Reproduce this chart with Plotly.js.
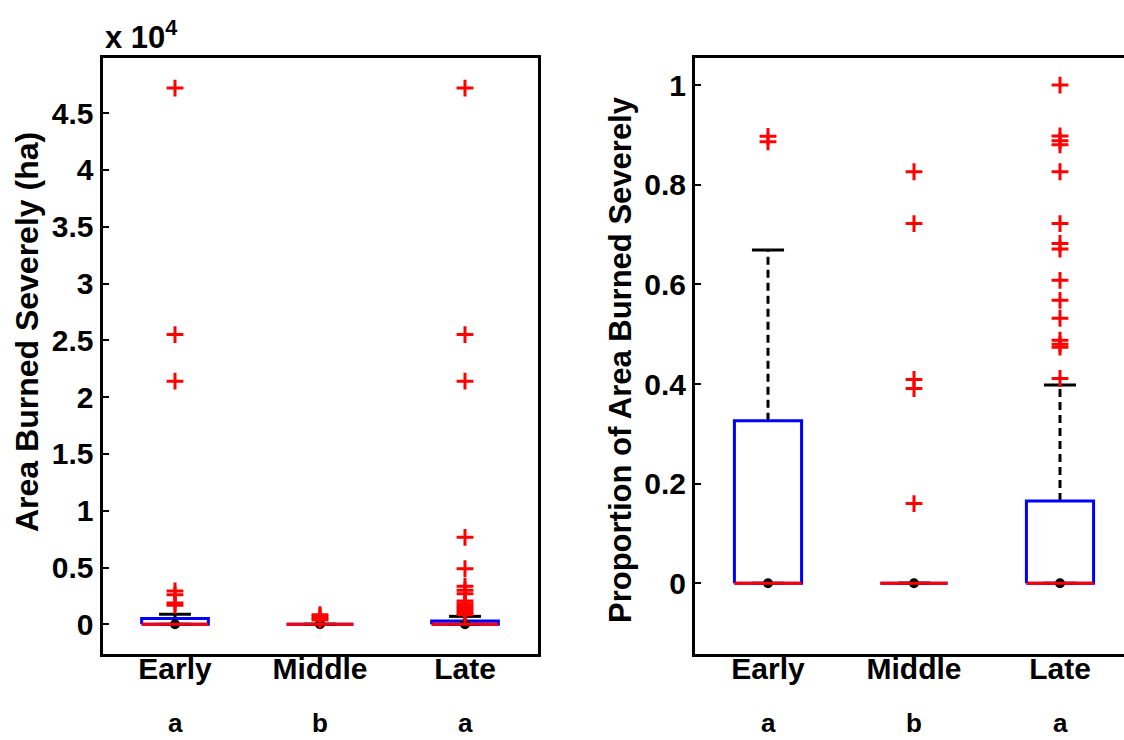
<!DOCTYPE html>
<html>
<head>
<meta charset="utf-8">
<script src="https://cdn.plot.ly/plotly-3.0.1.min.js"></script>
<style>
html,body{margin:0;padding:0;background:#fff;overflow:hidden;}
#chart{width:1140px;height:740px;}
</style>
</head>
<body>
<div id="chart"></div>
<script>
// ---------- data ----------
var categories = ['Early', 'Middle', 'Late'];
var sigLetters = ['a', 'b', 'a'];

// Area burned severely (ha)
var areaQ1 = [0, 0, 0];
var areaMedian = [0, 0, 0];
var areaQ3 = [500, 0, 300];
var areaLowerWhisker = [0, 0, 0];
var areaUpperWhisker = [880, 0, 700];
var areaOutliersEarly = [47200, 25500, 21400, 2930, 2610, 1880, 1670];
var areaOutliersMiddle = [850, 700, 520, 380];
var areaOutliersLate = [47200, 25500, 21400, 7660, 4900, 3350, 3000, 2700, 2050, 1800, 1600, 1400, 1200, 1000, 850];
var areaTickVals = [0, 5000, 10000, 15000, 20000, 25000, 30000, 35000, 40000, 45000];
var areaTickText = ['0', '0.5', '1', '1.5', '2', '2.5', '3', '3.5', '4', '4.5'];

// Proportion of area burned severely
var propQ1 = [0, 0, 0];
var propMedian = [0, 0, 0];
var propQ3 = [0.326, 0, 0.165];
var propLowerWhisker = [0, 0, 0];
var propUpperWhisker = [0.669, 0, 0.398];
var propOutliersEarly = [0.897, 0.886];
var propOutliersMiddle = [0.826, 0.722, 0.409, 0.391, 0.160];
var propOutliersLate = [1.0, 0.898, 0.888, 0.880, 0.826, 0.722, 0.682, 0.671, 0.608, 0.568, 0.532, 0.488, 0.480, 0.474, 0.411];
var propTickVals = [0, 0.2, 0.4, 0.6, 0.8, 1];
var propTickText = ['0', '0.2', '0.4', '0.6', '0.8', '1'];

// ---------- drawing ----------
var BOX_HALF = 0.23, CAP_HALF = 0.11;
var W = 1140, H = 740;

function boxTraces(q1, med, q3, lw, uw, outlierSets, xa, ya) {
  var pos = categories.map(function (c, i) { return i + 1; });
  var bx = [], by = [], wx = [], wy = [], cx = [], cy = [], mx = [], my = [], ox = [], oy = [], dx = [], dy = [];
  pos.forEach(function (p, i) {
    bx.push(p - BOX_HALF, p + BOX_HALF, p + BOX_HALF, p - BOX_HALF, p - BOX_HALF, null);
    by.push(q1[i], q1[i], q3[i], q3[i], q1[i], null);
    wx.push(p, p, null, p, p, null);
    wy.push(q3[i], uw[i], null, q1[i], lw[i], null);
    cx.push(p - CAP_HALF, p + CAP_HALF, null, p - CAP_HALF, p + CAP_HALF, null);
    cy.push(uw[i], uw[i], null, lw[i], lw[i], null);
    mx.push(p - BOX_HALF, p + BOX_HALF, null);
    my.push(med[i], med[i], null);
    outlierSets[i].forEach(function (v) { ox.push(p); oy.push(v); });
    dx.push(p); dy.push(med[i]);
  });
  var common = {xaxis: xa, yaxis: ya, hoverinfo: 'skip', showlegend: false, cliponaxis: false};
  return [
    Object.assign({type: 'scatter', mode: 'lines', x: wx, y: wy, line: {color: '#000', width: 3, dash: '8px,5px'}}, common),
    Object.assign({type: 'scatter', mode: 'lines', x: cx, y: cy, line: {color: '#000', width: 3}}, common),
    Object.assign({type: 'scatter', mode: 'lines', x: bx, y: by, line: {color: '#0000ff', width: 3}}, common),
    Object.assign({type: 'scatter', mode: 'markers', x: dx, y: dy, marker: {color: '#000', size: 10, symbol: 'circle'}}, common),
    Object.assign({type: 'scatter', mode: 'lines', x: mx, y: my, line: {color: '#ff0000', width: 3}}, common),
    Object.assign({type: 'scatter', mode: 'markers', x: ox, y: oy,
      marker: {symbol: 'cross-thin-open', size: 12, color: '#ff0000', line: {color: '#ff0000', width: 3}}}, common)
  ];
}

var traces = []
  .concat(boxTraces(areaQ1, areaMedian, areaQ3, areaLowerWhisker, areaUpperWhisker,
    [areaOutliersEarly, areaOutliersMiddle, areaOutliersLate], 'x', 'y'))
  .concat(boxTraces(propQ1, propMedian, propQ3, propLowerWhisker, propUpperWhisker,
    [propOutliersEarly, propOutliersMiddle, propOutliersLate], 'x2', 'y2'));

var FONT = 'Liberation Sans, Arial, Helvetica, sans-serif';
var tickFont = {family: FONT, size: 30, color: '#000', weight: 700};
var yDomain = [1 - 654 / H, 1 - 58 / H];

function xAxis(dom, anchor) {
  return {domain: dom, anchor: anchor, range: [0.5, 3.5], tickmode: 'array',
    tickvals: categories.map(function (c, i) { return i + 1; }), ticktext: categories,
    ticks: '', ticklen: 0, ticklabelstandoff: -14, showline: true, linewidth: 3, linecolor: '#000', mirror: true,
    showgrid: false, zeroline: false, tickfont: tickFont, fixedrange: true};
}
function yAxis(range, vals, text, anchor) {
  return {domain: yDomain, anchor: anchor, range: range, tickmode: 'array', tickvals: vals, ticktext: text,
    ticks: 'inside', ticklen: 6, tickwidth: 2, tickcolor: '#000', showline: true, linewidth: 3, linecolor: '#000',
    mirror: true, showgrid: false, zeroline: false, tickfont: tickFont, fixedrange: true};
}

var annotations = [];
sigLetters.forEach(function (s, i) {
  ['x', 'x2'].forEach(function (xr) {
    annotations.push({text: s, x: i + 1, xref: xr, y: 1 - 723 / H, yref: 'paper', showarrow: false,
      xanchor: 'center', yanchor: 'middle', font: {family: FONT, size: 26, color: '#000', weight: 700}});
  });
});
annotations.push({text: 'Area Burned Severely (ha)', textangle: -90, x: 27 / W, xref: 'paper',
  y: 1 - 332 / H, yref: 'paper', showarrow: false, xanchor: 'center', yanchor: 'middle',
  font: {family: FONT, size: 32, color: '#000', weight: 700}});
annotations.push({text: 'Proportion of Area Burned Severely', textangle: -90, x: 620 / W, xref: 'paper',
  y: 1 - 360 / H, yref: 'paper', showarrow: false, xanchor: 'center', yanchor: 'middle',
  font: {family: FONT, size: 31, color: '#000', weight: 700}});
annotations.push({text: 'x 10<sup>4</sup>', x: 103 / W, xref: 'paper', y: 1 - 35 / H, yref: 'paper',
  showarrow: false, xanchor: 'left', yanchor: 'middle',
  font: {family: FONT, size: 31, color: '#000', weight: 700}});

var layout = {
  width: W, height: H, margin: {l: 0, r: 0, t: 0, b: 0},
  paper_bgcolor: '#fff', plot_bgcolor: '#fff', showlegend: false,
  font: {family: FONT, color: '#000'},
  xaxis: xAxis([102.5 / W, 537.5 / W], 'y'),
  yaxis: yAxis([-2614, 49850], areaTickVals, areaTickText, 'x'),
  xaxis2: xAxis([695 / W, 1133 / W], 'y2'),
  yaxis2: yAxis([-0.1419, 1.0543], propTickVals, propTickText, 'x2'),
  annotations: annotations
};

Plotly.newPlot('chart', traces, layout, {staticPlot: true, displayModeBar: false});
</script>
</body>
</html>
